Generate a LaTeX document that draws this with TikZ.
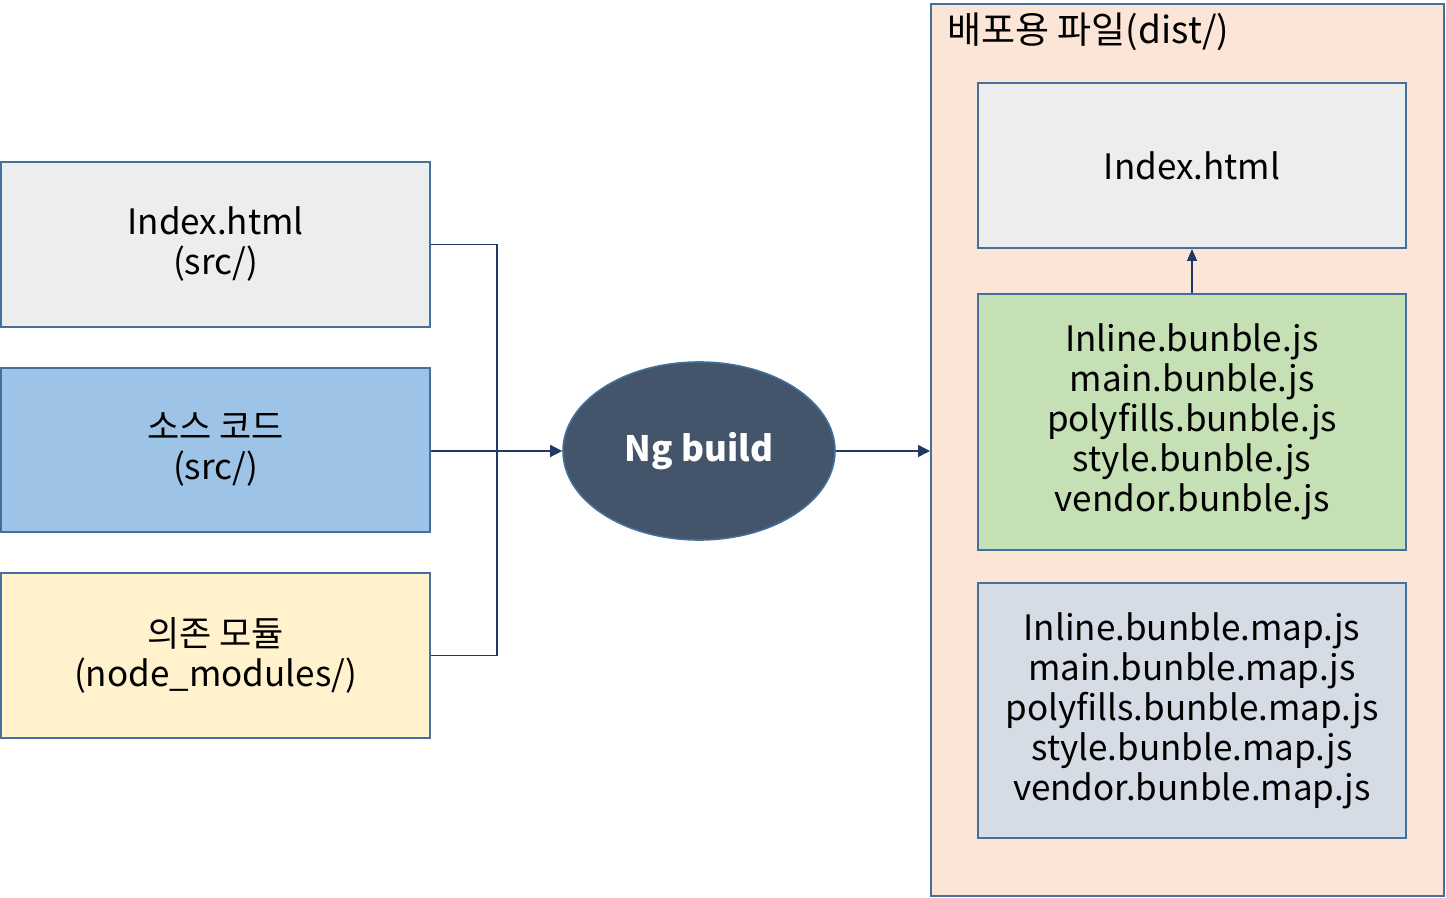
\documentclass[tikz,border=0pt]{standalone}
\usepackage{fontspec}
\setmainfont{Noto Sans CJK KR}
\usetikzlibrary{shapes.geometric,arrows.meta}
\definecolor{edgeblue}{HTML}{41719C}
\definecolor{linkblue}{HTML}{203864}
\definecolor{srcgray}{HTML}{EDEDED}
\definecolor{srcblue}{HTML}{9DC3E6}
\definecolor{srcyellow}{HTML}{FFF2CC}
\definecolor{ngfill}{HTML}{44546A}
\definecolor{distfill}{HTML}{FBE5D6}
\definecolor{bundlegreen}{HTML}{C5E0B4}
\definecolor{mapgray}{HTML}{D6DCE5}
\newcommand{\filefont}{\fontsize{17.5}{20}\selectfont}

\begin{document}
\begin{tikzpicture}[x=0.5pt, y=-0.5pt, font=\filefont,
    filebox/.style={draw=edgeblue, line width=1pt, align=center, inner sep=0pt},
    link/.style={draw=linkblue, line width=0.7pt}]
    \useasboundingbox (0, 0) rectangle (1446, 898);

    \node[filebox, fill=distfill, minimum width=256.5pt, minimum height=446pt] (dist) at (1187.5, 450) {};
    \node[anchor=base west, inner sep=0pt, font=\fontsize{18.5}{20}\selectfont] (title) at (947, 44) {배포용 파일(dist/)};

    \node[filebox, fill=srcgray, minimum width=214.5pt, minimum height=82.5pt] (html) at (215.5, 244.5) {Index.html\\(src/)};
    \node[filebox, fill=srcblue, minimum width=214.5pt, minimum height=82pt] (code) at (215.5, 450) {소스 코드\\(src/)};
    \node[filebox, fill=srcyellow, minimum width=214.5pt, minimum height=82.5pt] (deps) at (215.5, 655.5) {의존 모듈\\(node\_modules/)};

    \node[ellipse, draw=edgeblue, line width=0.8pt, fill=ngfill, text=white, font=\filefont\bfseries,
        minimum width=136pt, minimum height=89pt] (ng) at (699, 451) {Ng build};

    \node[filebox, fill=srcgray, minimum width=214pt, minimum height=82.5pt] (outhtml) at (1192, 165.5) {Index.html};
    \node[filebox, fill=bundlegreen, minimum width=214pt, minimum height=128pt] (bundles) at (1192, 422)
        {Inline.bunble.js\\main.bunble.js\\polyfills.bunble.js\\style.bunble.js\\vendor.bunble.js};
    \node[filebox, fill=mapgray, minimum width=214pt, minimum height=127.5pt] (maps) at (1192, 710.5)
        {Inline.bunble.map.js\\main.bunble.map.js\\polyfills.bunble.map.js\\style.bunble.map.js\\vendor.bunble.map.js};

    \coordinate (joint) at (497, 451);
    \draw[link] (html.east) -| (joint);
    \draw[link] (deps.east) -| (joint);
    \draw[link, -{Triangle[length=6pt, width=6pt]}] (code.east |- joint) -- (ng.west);
    \draw[link, -{Triangle[length=6pt, width=6pt]}] (ng.east) -- (ng.east -| dist.west);
    \draw[link, -{Triangle[length=6pt, width=5pt]}] (bundles.north) -- (outhtml.south);
\end{tikzpicture}
\end{document}
